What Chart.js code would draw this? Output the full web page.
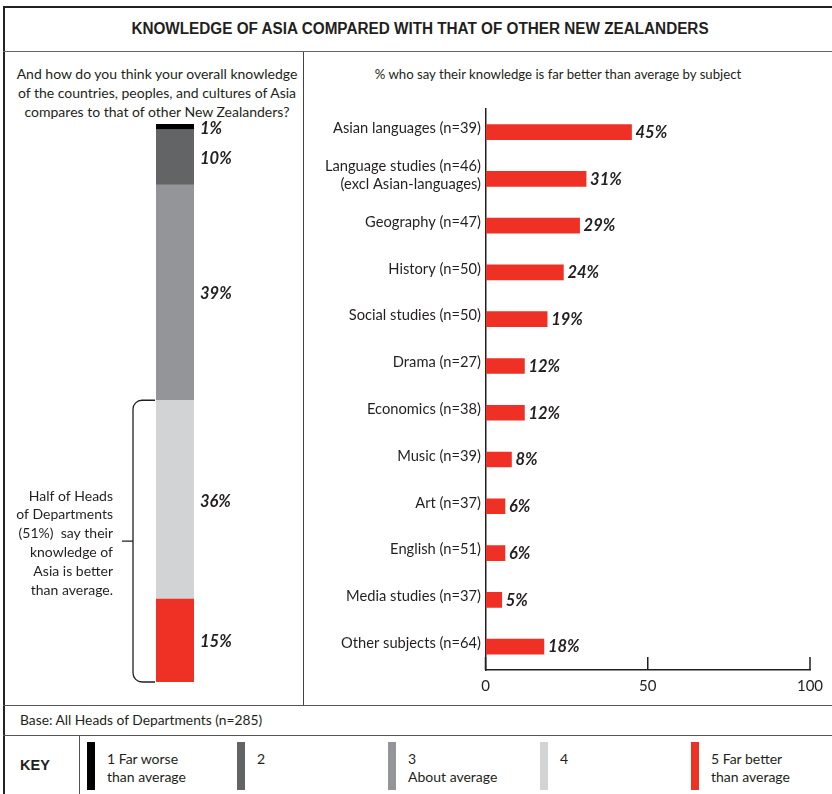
<!DOCTYPE html>
<html>
<head>
<meta charset="utf-8">
<title>Knowledge of Asia</title>
<script src="https://cdn.jsdelivr.net/npm/chart.js@4.4.1/dist/chart.umd.min.js"></script>
<style>
  html, body { margin: 0; padding: 0; background: #fff; }
  body { width: 832px; height: 794px; position: relative; overflow: hidden;
         font-family: Lato, 'Liberation Sans', sans-serif; color: #231f20; }
  .txt { position: absolute; white-space: nowrap; }
  .hl { position: absolute; height: 0; }
  .vl { position: absolute; width: 0; }
  .swatch { position: absolute; width: 8px; height: 48px; top: 742px; }
  canvas { position: absolute; }
</style>
</head>
<body>

<!-- frame -->
<div class="hl" style="left:3px; width:829px; top:6px; border-top:2px solid #222;"></div>
<div class="vl" style="left:3px; top:6px; height:788px; border-left:2px solid #222;"></div>
<div class="hl" style="left:3px; width:829px; top:51px; border-top:1.5px solid #666;"></div>
<div class="vl" style="left:303px; top:52px; height:653px; border-left:1.5px solid #444;"></div>
<div class="hl" style="left:3px; width:829px; top:705px; border-top:1.5px solid #555;"></div>
<div class="hl" style="left:3px; width:829px; top:735px; border-top:1.5px solid #555;"></div>
<div class="vl" style="left:79px; top:735px; height:59px; border-left:1.5px solid #555;"></div>

<div class="txt" style="left:0; width:840px; text-align:center; top:20px; line-height:20px;
     font:bold 16px 'Liberation Sans', sans-serif; transform:scaleX(0.955); transform-origin:420px 0;">KNOWLEDGE OF ASIA COMPARED WITH THAT OF OTHER NEW ZEALANDERS</div>

<div class="txt" style="left:7px; width:300px; text-align:center; top:64px; line-height:19px; font-size:14px;">
  And how do you think your overall knowledge<br>of the countries, peoples, and cultures of Asia<br>compares to that of other New Zealanders?</div>

<div class="txt" style="left:358px; width:400px; text-align:center; top:65px; line-height:19px; font-size:13.2px;">
  % who say their knowledge is far better than average by subject</div>

<div class="txt" style="left:20px; top:710px; line-height:20px; font-size:13.8px;">Base: All Heads of Departments (n=285)</div>
<div class="txt" style="left:20px; top:757px; line-height:20px; font:bold 14.5px 'Liberation Sans', sans-serif;">KEY</div>

<div id="key"></div>

<canvas id="overall" width="280" height="600" style="left:10px; top:100px;"></canvas>
<canvas id="subjects" width="529" height="610" style="left:303px; top:95px;"></canvas>

<script>
// overall self-rated knowledge, 1 = far worse ... 5 = far better
const ratingLevels = ['1', '2', '3', '4', '5'];
const ratingShares = [1, 10, 39, 36, 15];
const keyLines = [
  ['1 Far worse', 'than average'],
  ['2'],
  ['3', 'About average'],
  ['4'],
  ['5 Far better', 'than average']
];
const betterNote = ['Half of Heads', 'of Departments', '(51%)  say their', 'knowledge of', 'Asia is better', 'than average.'];

// % rating knowledge "far better than average", by subject taught
const subjects = [
  'Asian languages (n=39)',
  ['Language studies (n=46)', '(excl Asian-languages)'],
  'Geography (n=47)',
  'History (n=50)',
  'Social studies (n=50)',
  'Drama (n=27)',
  'Economics (n=38)',
  'Music (n=39)',
  'Art (n=37)',
  'English (n=51)',
  'Media studies (n=37)',
  'Other subjects (n=64)'
];
const farBetterShares = [45, 31, 29, 24, 19, 12, 12, 8, 6, 6, 5, 18];
const xTicks = [0, 50, 100];

const levelColors = ['#000000', '#636466', '#939598', '#d1d3d4', '#ee3124'];
const ink = '#231f20';
const sans = "Lato, 'Liberation Sans', sans-serif";
const valueFont = 'italic bold 16.5px ' + sans;

// key row
const keyX = [87, 237, 388, 540, 691];
const keyBox = document.getElementById('key');
ratingLevels.forEach((lvl, i) => {
  const sw = document.createElement('div');
  sw.className = 'swatch';
  sw.style.left = keyX[i] + 'px';
  sw.style.background = levelColors[i];
  keyBox.appendChild(sw);
  const t = document.createElement('div');
  t.className = 'txt';
  t.style.cssText = `left:${keyX[i] + 20}px; top:750px; line-height:18px; font-size:14px;`;
  t.innerHTML = keyLines[i].join('<br>');
  keyBox.appendChild(t);
});

// stacked bar: % labels beside each segment, bracket over levels 4 + 5
const overallLabels = {
  id: 'overallLabels',
  afterDatasetsDraw(chart) {
    const ctx = chart.ctx;
    ctx.save();
    ctx.fillStyle = ink;
    ctx.font = valueFont;
    ctx.textAlign = 'left';
    ctx.textBaseline = 'middle';
    let barLeft = 0;
    chart.data.datasets.forEach((ds, di) => {
      const el = chart.getDatasetMeta(di).data[0];
      barLeft = el.x - el.width / 2;
      ctx.fillText(ds.data[0] + '%', el.x + el.width / 2 + 6, (el.y + el.base) / 2 + 1.5);
    });

    const y = chart.scales.y;
    const top = y.getPixelForValue(ratingShares[3] + ratingShares[4]);
    const bottom = y.getPixelForValue(0);
    const mid = (top + bottom) / 2;
    const bx = barLeft - 23, ex = barLeft - 1, r = 9;
    ctx.strokeStyle = ink;
    ctx.lineWidth = 1.3;
    ctx.beginPath();
    ctx.moveTo(ex, top);
    ctx.lineTo(bx + r, top);
    ctx.arcTo(bx, top, bx, top + r, r);
    ctx.lineTo(bx, bottom - r);
    ctx.arcTo(bx, bottom, bx + r, bottom, r);
    ctx.lineTo(ex, bottom);
    ctx.moveTo(bx, mid);
    ctx.lineTo(bx - 11, mid);
    ctx.stroke();

    ctx.font = '14px ' + sans;
    ctx.textAlign = 'right';
    betterNote.forEach((line, i) => {
      ctx.fillText(line, bx - 20, mid + 2 + (i - (betterNote.length - 1) / 2) * 18.8);
    });
    ctx.restore();
  }
};

const stackOrder = [4, 3, 2, 1, 0]; // bottom segment first
new Chart(document.getElementById('overall'), {
  type: 'bar',
  data: {
    labels: ['All'],
    datasets: stackOrder.map(i => ({
      label: ratingLevels[i],
      data: [ratingShares[i]],
      backgroundColor: levelColors[i],
      borderWidth: 0,
      barThickness: 38
    }))
  },
  options: {
    responsive: false,
    animation: false,
    layout: { padding: { left: 146, right: 96, top: 24, bottom: 18 } },
    plugins: { legend: { display: false }, tooltip: { enabled: false } },
    scales: {
      x: { stacked: true, display: false },
      y: { stacked: true, display: false, min: 0, max: ratingShares.reduce((a, b) => a + b, 0) }
    }
  },
  plugins: [overallLabels]
});

// subject bars: value labels and short upward ticks on the x axis
const subjectLabels = {
  id: 'subjectLabels',
  afterDatasetsDraw(chart) {
    const ctx = chart.ctx;
    const meta = chart.getDatasetMeta(0);
    ctx.save();
    ctx.fillStyle = ink;
    ctx.font = valueFont;
    ctx.textAlign = 'left';
    ctx.textBaseline = 'middle';
    meta.data.forEach((el, i) => {
      ctx.fillText(farBetterShares[i] + '%', el.x + 4, el.y + 0.5);
    });
    const x = chart.scales.x;
    const b = chart.chartArea.bottom;
    ctx.strokeStyle = ink;
    ctx.lineWidth = 1.5;
    ctx.beginPath();
    xTicks.forEach(v => {
      const px = x.getPixelForValue(v);
      ctx.moveTo(px, b);
      ctx.lineTo(px, b - 13);
    });
    ctx.stroke();
    ctx.restore();
  }
};

new Chart(document.getElementById('subjects'), {
  type: 'bar',
  data: {
    labels: subjects,
    datasets: [{
      data: farBetterShares,
      backgroundColor: levelColors[4],
      borderWidth: 0,
      barThickness: 15
    }]
  },
  options: {
    indexAxis: 'y',
    responsive: false,
    animation: false,
    layout: { padding: { left: 0, right: 22, top: 11.5, bottom: 0 } },
    plugins: { legend: { display: false }, tooltip: { enabled: false } },
    scales: {
      x: {
        min: 0, max: 100,
        afterBuildTicks: s => { s.ticks = xTicks.map(v => ({ value: v })); },
        afterFit: s => { s.height = 35; },
        grid: { drawOnChartArea: false, drawTicks: false },
        border: { color: ink, width: 1.5 },
        ticks: { color: ink, font: { family: sans, size: 15 }, padding: 7, maxRotation: 0 }
      },
      y: {
        afterFit: s => { s.width = 182.5; },
        grid: { drawOnChartArea: false, drawTicks: false },
        border: { color: ink, width: 1.5 },
        ticks: { color: ink, font: { family: sans, size: 14.7, lineHeight: 1.25 }, padding: 4.5, labelOffset: -3.5, autoSkip: false }
      }
    }
  },
  plugins: [subjectLabels]
});
</script>
</body>
</html>
